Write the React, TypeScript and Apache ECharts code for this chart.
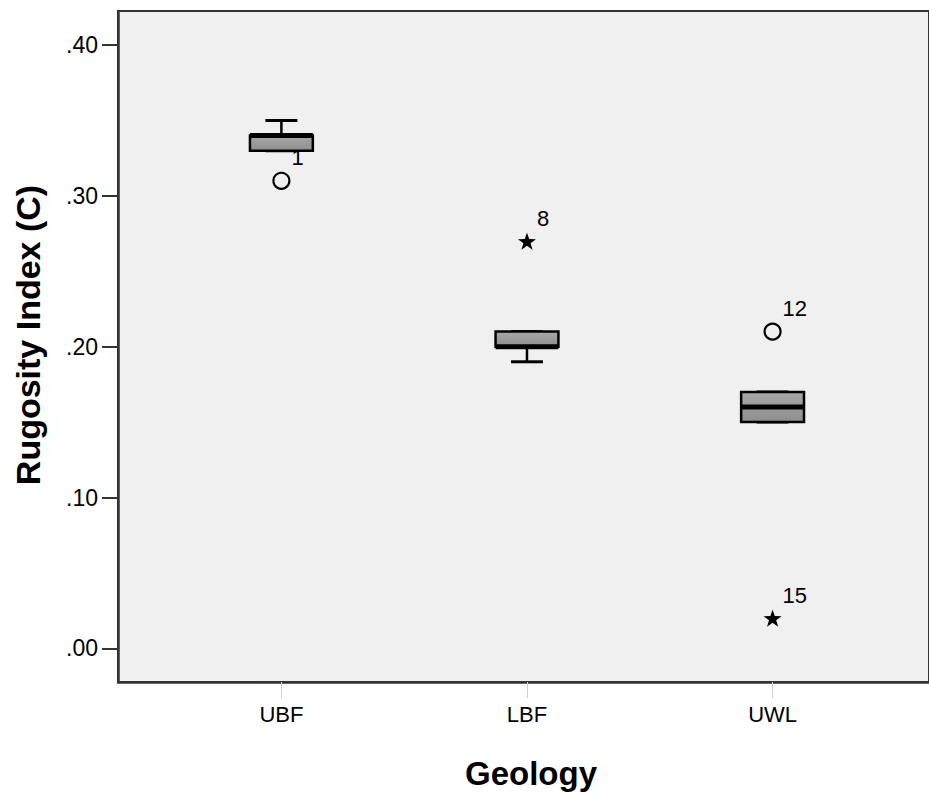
import React, { useEffect, useRef } from "react";
import * as echarts from "echarts";

// Geology groups and their five-number summaries
const categories = ["UBF", "LBF", "UWL"];
const whiskerLow = [0.33, 0.19, 0.15];
const quartile1 = [0.33, 0.2, 0.15];
const medians = [0.34, 0.2, 0.16];
const quartile3 = [0.34, 0.21, 0.17];
const whiskerHigh = [0.35, 0.21, 0.17];

// Outliers (circles) and extreme values (stars): [group index, value, case number]
const outlierPoints: [number, number, string][] = [
  [0, 0.31, "1"],
  [2, 0.21, "12"],
];
const extremePoints: [number, number, string][] = [
  [1, 0.27, "8"],
  [2, 0.02, "15"],
];

const yTicks = [0, 0.1, 0.2, 0.3, 0.4];

const FONT = "Arial, 'Liberation Sans', sans-serif";
const STAR =
  "path://M0,-10L2.35,-3.24L9.51,-3.09L3.8,1.24L5.88,8.09L0,4L-5.88,8.09L-3.8,1.24L-9.51,-3.09L-2.35,-3.24Z";

export default function App() {
  const ref = useRef<HTMLDivElement>(null);

  useEffect(() => {
    if (!ref.current) return;
    const chart = echarts.init(ref.current, null, { renderer: "svg" });

    const boxData = categories.map((_, i) => [
      i + 1,
      whiskerLow[i],
      quartile1[i],
      medians[i],
      quartile3[i],
      whiskerHigh[i],
    ]);

    const halfBox = 0.128;
    const halfCap = 0.065;

    const renderBox = (params: any, api: any) => {
      const x = api.value(0);
      const lo = api.coord([x, api.value(1)]);
      const q1 = api.coord([x, api.value(2)]);
      const md = api.coord([x, api.value(3)]);
      const q3 = api.coord([x, api.value(4)]);
      const hi = api.coord([x, api.value(5)]);
      const bw = api.size([halfBox, 0])[0];
      const cw = api.size([halfCap, 0])[0];
      const cx = md[0];
      const line = { stroke: "#000", lineWidth: 2.5 };
      const children: any[] = [];
      if (hi[1] < q3[1]) {
        children.push({
          type: "line",
          shape: { x1: cx, y1: hi[1], x2: cx, y2: q3[1] },
          style: line,
        });
      }
      if (lo[1] > q1[1]) {
        children.push({
          type: "line",
          shape: { x1: cx, y1: q1[1], x2: cx, y2: lo[1] },
          style: line,
        });
      }
      children.push(
        {
          type: "line",
          shape: { x1: cx - cw, y1: hi[1], x2: cx + cw, y2: hi[1] },
          style: { stroke: "#000", lineWidth: 3 },
        },
        {
          type: "line",
          shape: { x1: cx - cw, y1: lo[1], x2: cx + cw, y2: lo[1] },
          style: { stroke: "#000", lineWidth: 3 },
        },
        {
          type: "rect",
          shape: { x: cx - bw, y: q3[1], width: bw * 2, height: q1[1] - q3[1] },
          style: {
            fill: new echarts.graphic.LinearGradient(0, 0, 0, 1, [
              { offset: 0, color: "#a8a8a8" },
              { offset: 1, color: "#8e8e8e" },
            ]),
            stroke: "#000",
            lineWidth: 2.5,
          },
        },
        {
          type: "line",
          shape: { x1: cx - bw, y1: md[1], x2: cx + bw, y2: md[1] },
          style: { stroke: "#000", lineWidth: 5 },
        }
      );
      return { type: "group", children };
    };

    const caseLabel = {
      show: true,
      position: "inside",
      align: "left",
      verticalAlign: "middle",
      offset: [10, -23],
      formatter: (p: any) => p.value[2],
      color: "#000",
      fontSize: 22,
      fontFamily: FONT,
    };

    chart.setOption({
      animation: false,
      backgroundColor: "#fff",
      grid: {
        left: 118,
        top: 11,
        right: -3,
        bottom: 112,
        show: true,
        backgroundColor: "#f0f0f0",
        borderColor: "#333",
        borderWidth: 2,
      },
      xAxis: {
        type: "value",
        min: 1 - 164 / 246.5,
        max: 1 + 650 / 246.5,
        splitLine: { show: false },
        axisLine: { show: true, onZero: false, lineStyle: { color: "#333", width: 2.5 } },
        axisTick: {
          show: true,
          customValues: [1, 2, 3],
          length: 16,
          lineStyle: { color: "#cfcfcf", width: 1 },
        },
        axisLabel: {
          customValues: [1, 2, 3],
          formatter: (v: number) => categories[Math.round(v) - 1] ?? "",
          margin: 21,
          color: "#000",
          fontSize: 22,
          fontFamily: FONT,
        },
      },
      yAxis: {
        type: "value",
        min: (648.3 - 682) / 1508,
        max: (648.3 - 11) / 1508,
        splitLine: { show: false },
        axisLine: { show: true, onZero: false, lineStyle: { color: "#333", width: 2.5 } },
        axisTick: {
          show: true,
          customValues: yTicks,
          length: 16,
          lineStyle: { color: "#333", width: 2 },
        },
        axisLabel: {
          customValues: yTicks,
          formatter: (v: number) => v.toFixed(2).replace(/^0/, ""),
          margin: 20,
          color: "#000",
          fontSize: 23,
          fontFamily: FONT,
        },
      },
      graphic: [
        {
          type: "text",
          x: 28,
          y: 335,
          rotation: Math.PI / 2,
          style: {
            text: "Rugosity Index (C)",
            fontSize: 34,
            fontWeight: "bold",
            fontFamily: FONT,
            fill: "#000",
            align: "center",
            verticalAlign: "middle",
          },
        },
        {
          type: "text",
          x: 531,
          y: 773,
          style: {
            text: "Geology",
            fontSize: 33,
            fontWeight: "bold",
            fontFamily: FONT,
            fill: "#000",
            align: "center",
            verticalAlign: "middle",
          },
        },
      ],
      series: [
        {
          type: "custom",
          name: "Rugosity",
          renderItem: renderBox,
          data: boxData,
          encode: { x: 0, y: [1, 2, 3, 4, 5] },
          clip: false,
          z: 2,
        },
        {
          type: "scatter",
          name: "Outliers",
          symbol: "circle",
          symbolSize: 16,
          itemStyle: { color: "rgba(0,0,0,0)", borderColor: "#000", borderWidth: 2.2, opacity: 1 },
          data: outlierPoints.map(([g, v, id]) => [g + 1, v, id]),
          label: caseLabel,
          z: 3,
        },
        {
          type: "scatter",
          name: "Extremes",
          symbol: STAR,
          symbolSize: [18, 17],
          itemStyle: { color: "#000", opacity: 1 },
          data: extremePoints.map(([g, v, id]) => [g + 1, v, id]),
          label: caseLabel,
          z: 3,
        },
      ],
    });

    return () => chart.dispose();
  }, []);

  return (
    <div
      ref={ref}
      style={{ position: "fixed", left: 0, top: 0, width: 929, height: 794 }}
    />
  );
}
